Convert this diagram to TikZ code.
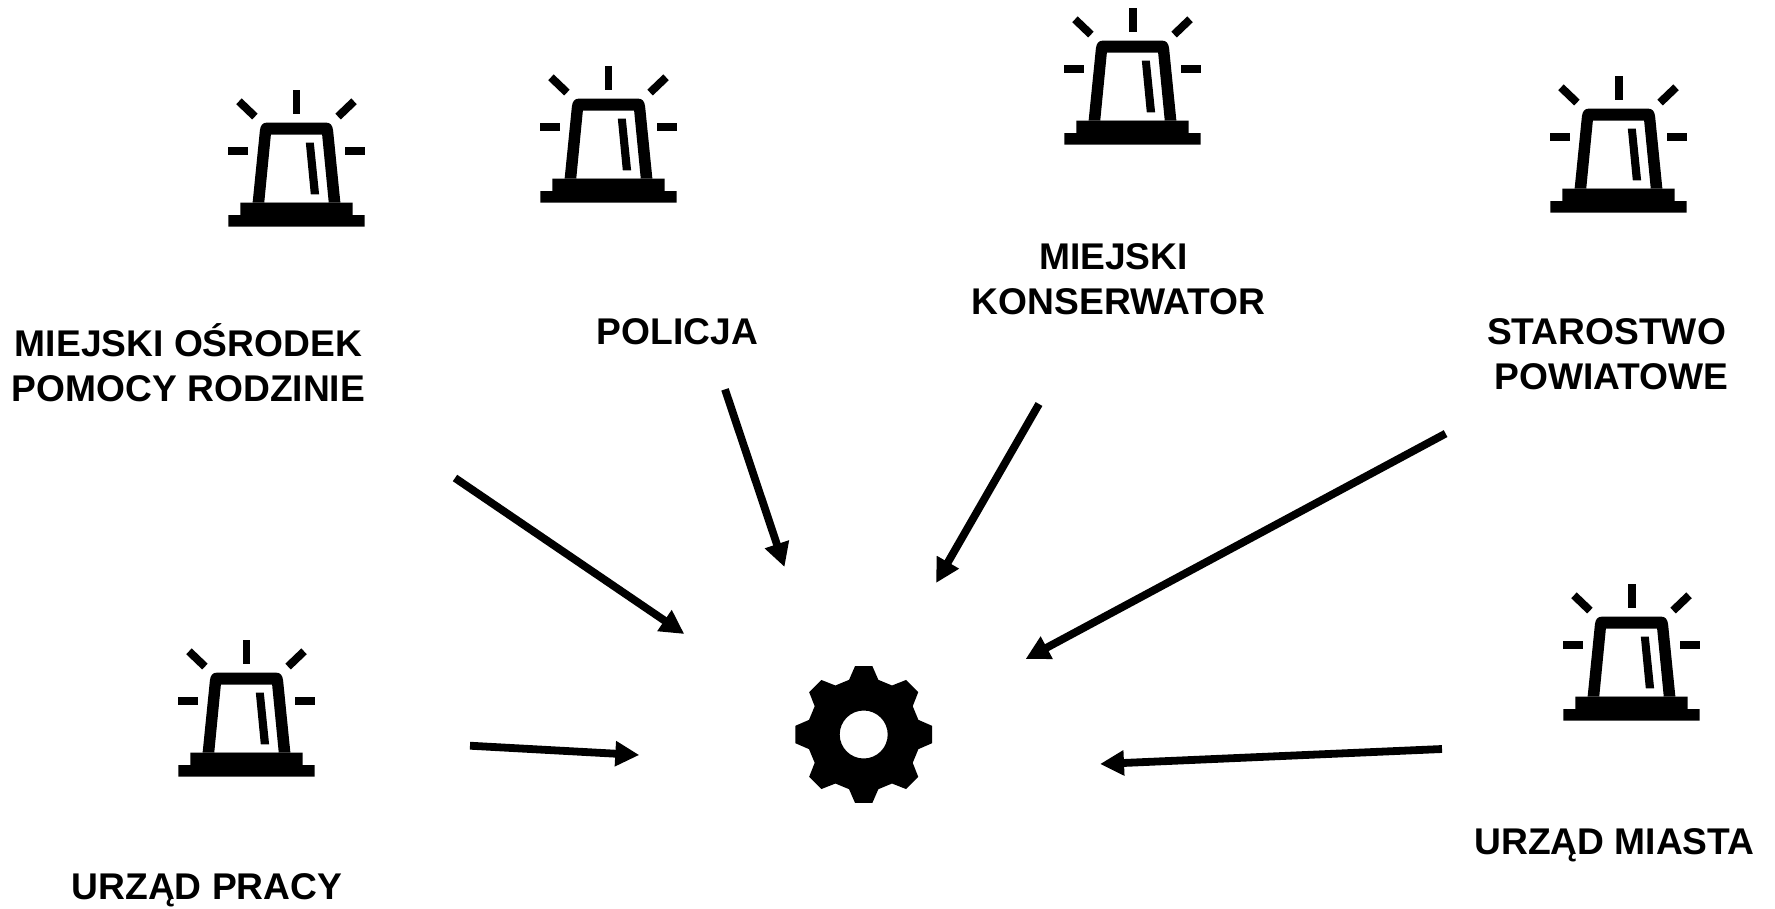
\documentclass[tikz,border=0pt]{standalone}
\usepackage{fontspec}
\setmainfont{Liberation Sans}
\usepackage{tikz}
\usetikzlibrary{arrows.meta}
\tikzstyle{label}=[font=\fontsize{10.58}{12.75}\selectfont\bfseries, align=center, inner sep=0pt]
\tikzstyle{feed}=[line width=0.078cm, -{Triangle[length=0.24cm, width=0.24cm]}]
\tikzset{
    alarm/.pic={
        \begin{scope}[x=0.003333cm, y=0.003333cm]
        \fill (-205, -205) -- (205, -205) -- (205, -170) -- (169, -170) -- (169, -133)
            -- (-169, -133) -- (-169, -170) -- (-205, -170) -- cycle;
        \fill[even odd rule] (-132, -133) -- (-110, 85) .. controls (-108, 100) and (-102, 108) .. (-88, 108)
            -- (88, 108) .. controls (102, 108) and (108, 100) .. (110, 85) -- (132, -133) -- cycle
            (-97, -133) -- (-77, 72) -- (77, 72) -- (97, -133) -- cycle;
        \fill (28, 48) -- (52, 48) -- (68, -108) -- (43, -108) -- cycle;
        \fill (-12, 133) rectangle (12, 205);
        \fill (-205, 12) rectangle (-145, 36);
        \fill (145, 12) rectangle (205, 36);
        \draw[line width=0.08cm] (-173, 172) -- (-125, 126);
        \draw[line width=0.08cm] (173, 172) -- (125, 126);
        \end{scope}
    },
    gear/.pic={
        \fill[even odd rule] (97.2:0.69)
            \foreach \a in {0, 45, ..., 315} {
                -- (\a+97.2:0.69) -- (\a+105:0.566) -- (\a+120:0.566) -- (\a+127.8:0.69)
            } -- cycle
            (0, 0) circle (0.24);
    }
}

\begin{document}
\begin{tikzpicture}
    \useasboundingbox (0, 0) rectangle (17.75, 9.08);
    % beacons
    \pic at (2.965, 7.495) {alarm};
    \pic at (6.085, 7.735) {alarm};
    \pic at (11.325, 8.315) {alarm};
    \pic at (16.185, 7.635) {alarm};
    \pic at (16.315, 2.555) {alarm};
    \pic at (2.465, 1.995) {alarm};
    \pic at (8.637, 1.735) {gear};
    % labels
    \node[label] (mops) at (1.885, 5.455) {MIEJSKI OŚRODEK\\POMOCY RODZINIE};
    \node[label] (policja) at (6.775, 5.76) {POLICJA};
    \node[label] (konserwator) at (11.185, 6.29) {MIEJSKI\kern 0.1cm\\KONSERWATOR};
    \node[label] (starostwo) at (16.115, 5.54) {STAROSTWO\kern 0.1cm\\POWIATOWE};
    \node[label] (miasto) at (16.145, 0.625) {URZĄD MIASTA};
    \node[label] (praca) at (2.07, 0.175) {URZĄD PRACY};
    % arrows
    \coordinate (mopsA) at (4.55, 4.30);
    \coordinate (mopsB) at (6.843, 2.74);
    \coordinate (policjaA) at (7.25, 5.186);
    \coordinate (policjaB) at (7.845, 3.41);
    \coordinate (konserwatorA) at (10.39, 5.04);
    \coordinate (konserwatorB) at (9.36, 3.25);
    \coordinate (starostwoA) at (14.456, 4.744);
    \coordinate (starostwoB) at (10.256, 2.49);
    \coordinate (miastoA) at (14.42, 1.59);
    \coordinate (miastoB) at (11.0, 1.44);
    \coordinate (pracaA) at (4.7, 1.623);
    \coordinate (pracaB) at (6.393, 1.53);
    \draw[feed] (mopsA) -- (mopsB);
    \draw[feed] (policjaA) -- (policjaB);
    \draw[feed] (konserwatorA) -- (konserwatorB);
    \draw[feed] (starostwoA) -- (starostwoB);
    \draw[feed] (miastoA) -- (miastoB);
    \draw[feed] (pracaA) -- (pracaB);
\end{tikzpicture}
\end{document}
